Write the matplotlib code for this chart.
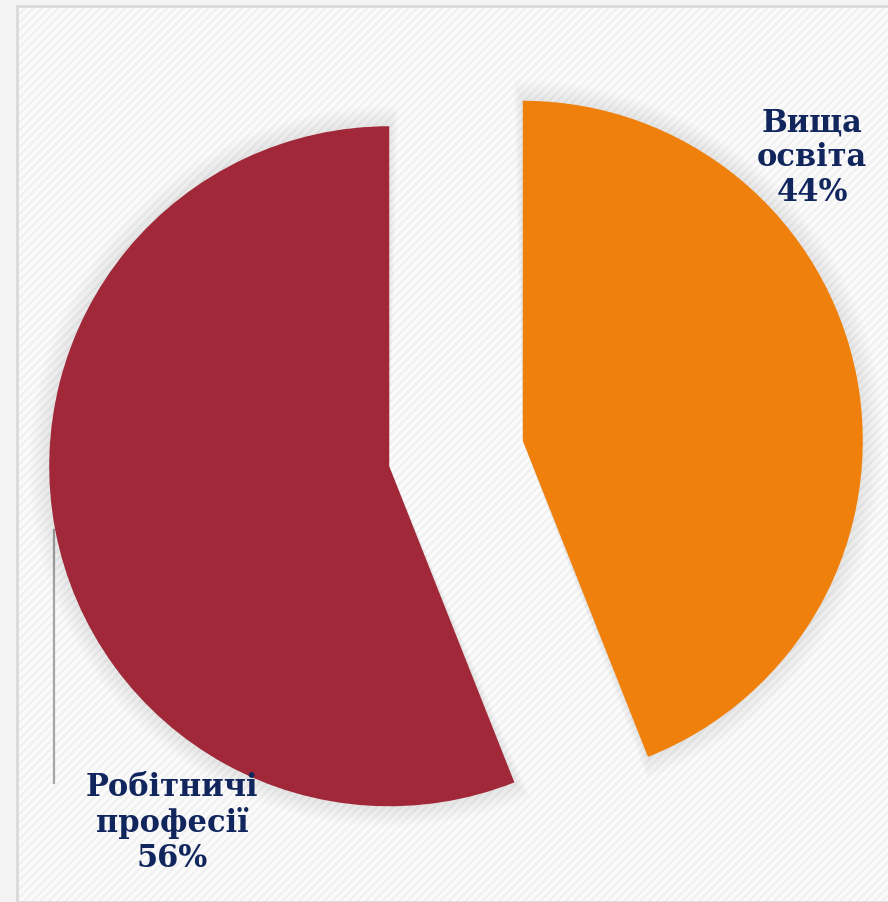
import matplotlib.pyplot as plt
import matplotlib.patches as mpatches

# Data
labels = ["Вища\nосвіта", "Робітничі\nпрофесії"]
shares = [44, 56]
colors = ["#EF800B", "#A02838"]

plt.rcParams["hatch.linewidth"] = 1.5

W, H = 888, 902
fig = plt.figure(figsize=(W / 100, H / 100), dpi=100)
fig.patch.set_facecolor("#f3f3f3")

# Frame with faint diagonal texture (hatch takes the edge colour)
texture = mpatches.Rectangle((17 / W, 0), 1.0, 1 - 6 / H, transform=fig.transFigure,
                             facecolor="#fbfbfb", edgecolor="#f0f0f0", linewidth=0,
                             hatch="////", zorder=-2)
border = mpatches.Rectangle((17 / W, 0), 1.0, 1 - 6 / H, transform=fig.transFigure,
                            fill=False, edgecolor="#dadada", linewidth=2.0, zorder=-1)
fig.patches.extend([texture, border])

ax = fig.add_axes([0, 0, 1, 1])
ax.set_facecolor("none")

wedges, _ = ax.pie(shares, colors=colors, startangle=90, counterclock=False,
                   explode=[0.2, 0.2], radius=1.0,
                   wedgeprops=dict(linewidth=0, zorder=3))

# Pie radius 340 px, centre at (456, 453.5) px
R = 340.0
cx, cy = 456.0, 453.5
ax.set_xlim(-cx / R, (W - cx) / R)
ax.set_ylim(-(H - cy) / R, cy / R)
ax.set_aspect("equal")
ax.axis("off")

# Soft shadow around slices
for w in wedges:
    for k in range(1, 11):
        sh = mpatches.Wedge(w.center, w.r + k * 0.006, w.theta1 - k * 0.15, w.theta2 + k * 0.15,
                            facecolor="black", alpha=0.009, linewidth=0, zorder=2)
        ax.add_patch(sh)

# Thin gray leader line on the left
ax.plot([(54 - cx) / R] * 2, [(cy - 530) / R, (cy - 783) / R],
        color="#a6a6a6", linewidth=1.6, zorder=1)

txt_kw = dict(ha="center", va="center", fontsize=22, fontweight="bold",
              family="DejaVu Serif", color="#12265E", linespacing=1.15)
fig.text(812 / W, 1 - 158 / H, f"{labels[0]}\n{shares[0]}%", **txt_kw)
fig.text(172 / W, 1 - 823 / H, f"{labels[1]}\n{shares[1]}%", **txt_kw)

fig.savefig("out.png", dpi=100, facecolor=fig.get_facecolor())
